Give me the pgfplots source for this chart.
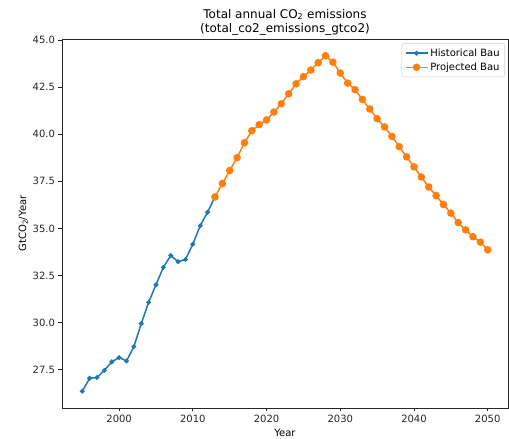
\documentclass[border=0pt]{standalone}
\usepackage{pgfplots}
\pgfplotsset{compat=1.18}
\usepackage{fontspec}
\setmainfont{DejaVu Sans}
\definecolor{mplblue}{HTML}{1F77B4}
\definecolor{mplorange}{HTML}{FF7F0E}
\definecolor{axgray}{HTML}{262626}
\begin{document}
\begin{tikzpicture}
\begin{axis}[
  at={(0pt,0pt)}, anchor=south west,
  scale only axis, width=446pt, height=369pt,
  xmin=1992.25, xmax=2052.75, ymin=25.46, ymax=45.06,
  xtick={2000,2010,2020,2030,2040,2050},
  ytick={27.5,30,32.5,35,37.5,40,42.5,45},
  /pgf/number format/assume math mode=true,
  xticklabel style={/pgf/number format/1000 sep={}},
  yticklabel style={/pgf/number format/.cd,fixed,fixed zerofill,precision=1},
  tick align=outside, tick pos=left, major tick length=3.5pt,
  axis line style={line width=0.8pt, axgray},
  every tick/.style={axgray, line width=0.8pt},
  tick label style={font=\fontsize{10}{12}\selectfont, text=axgray},
  label style={font=\fontsize{10}{12}\selectfont},
  xlabel={Year}, ylabel={GtCO\textsubscript{2}/Year},
  ylabel style={yshift=-2pt},
  title={Total annual CO\textsubscript{2} emissions\\(total\_co2\_emissions\_gtco2)},
  title style={align=center, font=\fontsize{12}{14.5}\selectfont, yshift=-6pt},
  legend style={at={(rel axis cs:0.993,0.988)}, anchor=north east,
    draw=black!20, rounded corners=2pt, font=\fontsize{10}{12}\selectfont,
    row sep=1pt, inner sep=3pt},
  legend cell align=left,
  legend image code/.code={\draw[mark repeat=2,mark phase=2,#1] plot coordinates {(0pt,0pt)(11pt,0pt)(22pt,0pt)};},
]
\addplot[mplblue, line width=1.5pt, mark=*, mark size=1.6pt, mark options={solid}] coordinates {
(1995,26.35)(1996,27.04)(1997,27.08)(1998,27.46)(1999,27.91)(2000,28.14)
(2001,27.96)(2002,28.72)(2003,29.94)(2004,31.07)(2005,32.01)(2006,32.93)
(2007,33.56)(2008,33.23)(2009,33.35)(2010,34.16)(2011,35.14)(2012,35.86)(2013,36.67)};
\addlegendentry{Historical Bau}
\addplot[mplorange, line width=1.5pt, mark=*, mark size=3pt, mark options={solid}] coordinates {
(2013,36.67)(2014,37.38)(2015,38.07)(2016,38.76)(2017,39.55)(2018,40.19)
(2019,40.51)(2020,40.76)(2021,41.18)(2022,41.62)(2023,42.15)(2024,42.68)
(2025,43.06)(2026,43.41)(2027,43.80)(2028,44.17)(2029,43.83)(2030,43.25)
(2031,42.72)(2032,42.37)(2033,41.85)(2034,41.34)(2035,40.83)(2036,40.39)
(2037,39.89)(2038,39.34)(2039,38.80)(2040,38.27)(2041,37.73)(2042,37.20)
(2043,36.74)(2044,36.27)(2045,35.81)(2046,35.31)(2047,34.92)(2048,34.56)
(2049,34.27)(2050,33.86)};
\addlegendentry{Projected Bau}
\end{axis}
\pgfresetboundingbox
\path (-62pt,-31pt) rectangle (447pt,408pt);
\end{tikzpicture}
\end{document}
